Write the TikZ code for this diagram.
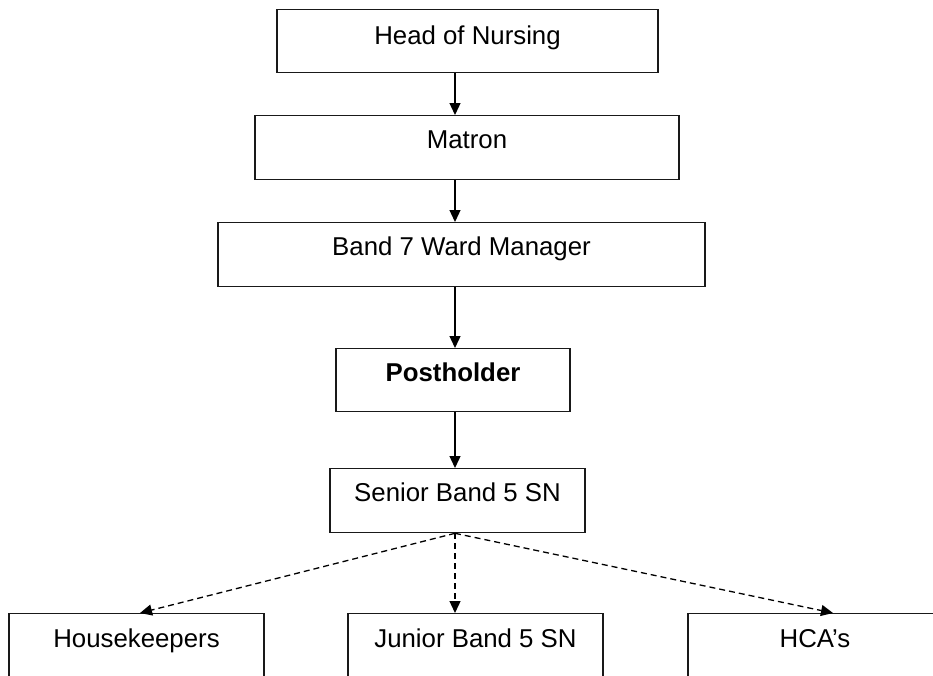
\documentclass[tikz,border=0pt]{standalone}
\usepackage{fontspec}
\setmainfont{Liberation Sans}
\usetikzlibrary{arrows.meta}
\begin{document}
\begin{tikzpicture}[x=1pt,y=-1pt,
  box/.style={draw=black!90, line width=1.3pt, rectangle, inner sep=0pt, anchor=north,
    text height=33pt, text depth=31pt, font=\fontsize{25.8}{30}\selectfont},
  arr/.style={draw=black, line width=1.3pt, -{Triangle[length=12pt,width=11pt]}},
  darr/.style={arr, dash pattern=on 6pt off 4pt}]
\useasboundingbox (0,0) rectangle (933,675);
\clip (0,0) rectangle (933,675);
\coordinate (spine) at (455,0);
\node[box, minimum width=381pt, text height=35pt, text depth=28pt] (head) at (467.5,9) {Head of Nursing};
\node[box, minimum width=424pt] (matron) at (467,115) {Matron};
\node[box, minimum width=487pt] (band7) at (461.5,222) {Band 7 Ward Manager};
\node[box, minimum width=234pt, text depth=30pt] (post) at (453,348) {\bfseries Postholder};
\node[box, minimum width=255pt] (senior) at (457.5,468) {Senior Band 5 SN};
\node[box, minimum width=255pt, text height=34pt] (house) at (136.5,613) {Housekeepers};
\node[box, minimum width=255pt, text height=34pt] (junior) at (475.5,613) {Junior Band 5 SN};
\node[box, minimum width=254pt, text height=34pt] (hca) at (815,613) {HCA’s};
\draw[arr] (head.south -| spine) -- (matron.north -| spine);
\draw[arr] (matron.south -| spine) -- (band7.north -| spine);
\draw[arr] (band7.south -| spine) -- (post.north -| spine);
\draw[arr] (post.south -| spine) -- (senior.north -| spine);
\coordinate (fan) at (senior.south -| spine);
\draw[darr] (fan) -- ([xshift=3.5pt]house.north);
\draw[darr] (fan) -- (junior.north -| spine);
\draw[darr] (fan) -- ([xshift=18pt]hca.north);
\end{tikzpicture}
\end{document}
